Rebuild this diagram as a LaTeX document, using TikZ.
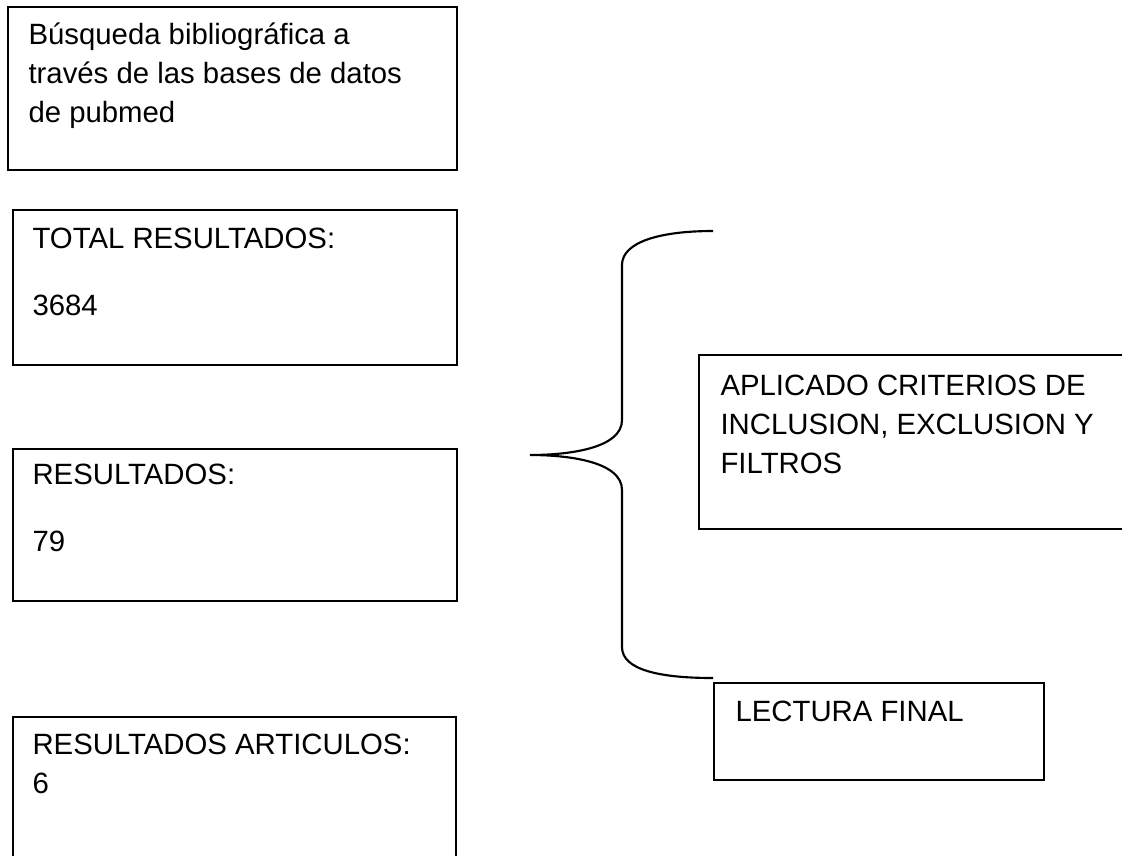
\documentclass[tikz,border=0pt]{standalone}
\usepackage{fontspec}
\setmainfont{Liberation Sans}
\begin{document}
\begin{tikzpicture}[x=0.375pt,y=-0.375pt,
  caja/.style={draw,line width=0.8pt,inner sep=0pt,anchor=north west},
  texto/.style={anchor=base west,align=left,inner sep=0pt,font=\fontsize{11}{14.6}\selectfont},
  llave/.style={line width=0.8pt}]
\useasboundingbox (0,0) rectangle (1122,855);
\clip (0,0) rectangle (1122,855);
% cajas: nombre/x/y/ancho/alto (ancho y alto en pt)
\foreach \n/\x/\y/\w/\h in {busqueda/7/6/168.4/61.1,total/12/209/166.5/58.1,resultados/12/448/166.5/57.0,articulos/12/716/166.1/57.75,aplicado/698/354/165.75/65.25,lectura/713/682/123.75/36.4} {
  \node[caja,minimum width=\w pt,minimum height=\h pt] (\n) at (\x,\y) {};
}
% textos (base = ultima linea)
\node[texto] (busquedaT) at (28,122) {Búsqueda bibliográfica a\\través de las bases de datos\\de pubmed};
\node[texto] (totalT) at (32,315) {TOTAL RESULTADOS:\\[10.5pt]3684};
\node[texto] (resultadosT) at (32,551) {RESULTADOS:\\[10.5pt]79};
\node[texto] (articulosT) at (32,793) {RESULTADOS ARTICULOS:\\6};
\node[texto] (aplicadoT) at (720,473) {APLICADO CRITERIOS DE\\INCLUSION, EXCLUSION Y\\FILTROS};
\node[texto] (lecturaT) at (735,721) {LECTURA FINAL};
% llave
\coordinate (llaveA) at (713,231);
\coordinate (llaveP) at (530,455);
\coordinate (llaveB) at (713,678);
\draw[llave] (llaveA) .. controls (660,231) and (622,242) .. (622,265) -- (622,420)
  .. controls (622,448) and (570,455) .. (llaveP)
  .. controls (570,455) and (622,462) .. (622,490) -- (622,647)
  .. controls (622,670) and (660,678) .. (llaveB);
\end{tikzpicture}
\end{document}
